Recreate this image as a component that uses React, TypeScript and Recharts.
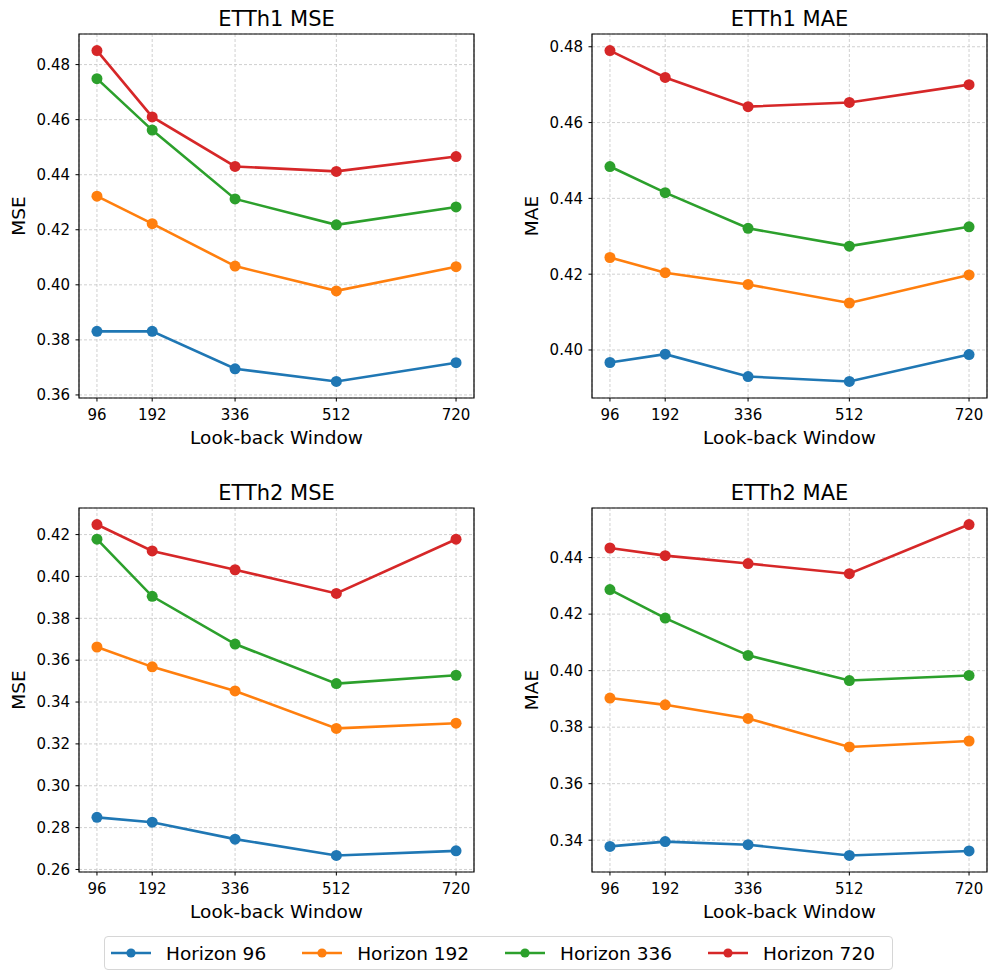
import React from "react";
import {
  CartesianGrid,
  Legend,
  Line,
  LineChart,
  ReferenceArea,
  XAxis,
  YAxis,
} from "recharts";

const windows = [96, 192, 336, 512, 720];

const horizons = ["Horizon 96", "Horizon 192", "Horizon 336", "Horizon 720"];
const colors = ["#1f77b4", "#ff7f0e", "#2ca02c", "#d62728"];

// ETTh1
const etth1Mse96 = [0.3831, 0.3831, 0.3695, 0.3649, 0.3717];
const etth1Mse192 = [0.4322, 0.4222, 0.4068, 0.3978, 0.4066];
const etth1Mse336 = [0.4749, 0.4562, 0.4312, 0.4218, 0.4283];
const etth1Mse720 = [0.4851, 0.461, 0.443, 0.4412, 0.4466];

const etth1Mae96 = [0.3967, 0.3989, 0.393, 0.3917, 0.3988];
const etth1Mae192 = [0.4244, 0.4204, 0.4173, 0.4124, 0.4198];
const etth1Mae336 = [0.4484, 0.4415, 0.4321, 0.4274, 0.4325];
const etth1Mae720 = [0.479, 0.4719, 0.4642, 0.4653, 0.47];

// ETTh2
const etth2Mse96 = [0.2849, 0.2826, 0.2745, 0.2667, 0.2689];
const etth2Mse192 = [0.3663, 0.3568, 0.3453, 0.3274, 0.3299];
const etth2Mse336 = [0.4178, 0.3905, 0.3677, 0.3488, 0.3528];
const etth2Mse720 = [0.4248, 0.4122, 0.4032, 0.3919, 0.4178];

const etth2Mae96 = [0.3378, 0.3395, 0.3384, 0.3346, 0.3362];
const etth2Mae192 = [0.3903, 0.3879, 0.3831, 0.373, 0.3751];
const etth2Mae336 = [0.4287, 0.4186, 0.4054, 0.3965, 0.3983];
const etth2Mae720 = [0.4434, 0.4407, 0.4379, 0.4343, 0.4517];

const etth1MseTicks = [0.36, 0.38, 0.4, 0.42, 0.44, 0.46, 0.48];
const etth1MaeTicks = [0.4, 0.42, 0.44, 0.46, 0.48];
const etth2MseTicks = [0.26, 0.28, 0.3, 0.32, 0.34, 0.36, 0.38, 0.4, 0.42];
const etth2MaeTicks = [0.34, 0.36, 0.38, 0.4, 0.42, 0.44];

const FONT = '"DejaVu Sans", "Liberation Sans", sans-serif';
const KEYS = ["h96", "h192", "h336", "h720"];

// plot box: 395 x 364, y axis 79 wide, x axis 50 tall
const CHART_W = 490;
const CHART_H = 460;
const Y_W = 79;
const X_H = 50;
const MARGIN = { top: 34, right: 16, left: 0, bottom: 12 };

function padded(values: number[]): [number, number] {
  const lo = Math.min(...values);
  const hi = Math.max(...values);
  const p = (hi - lo) * 0.05;
  return [lo - p, hi + p];
}

function buildRows(series: number[][]) {
  return windows.map((w, i) => {
    const row: Record<string, number> = { w };
    series.forEach((s, k) => {
      row[KEYS[k]] = s[i];
    });
    return row;
  });
}

function renderLegend(props: any) {
  // keep the series order, not the alphabetical one
  const payload = [...(props.payload ?? [])].sort(
    (a: any, b: any) => horizons.indexOf(a.value) - horizons.indexOf(b.value)
  );
  return (
    <div
      style={{
        boxSizing: "border-box",
        width: "100%",
        height: "100%",
        border: "1px solid #d6d6d6",
        borderRadius: 4,
        background: "#fff",
        display: "flex",
        alignItems: "center",
        paddingLeft: 6,
        fontFamily: FONT,
        fontSize: 18.5,
        color: "#000",
      }}
    >
      {payload.map((entry: any) => (
        <div
          key={entry.value}
          style={{ display: "flex", alignItems: "center", marginRight: 36 }}
        >
          <svg width={40} height={12} style={{ display: "block" }}>
            <line x1={0} y1={6} x2={40} y2={6} stroke={entry.color} strokeWidth={2.6} />
            <circle cx={20} cy={6} r={4.6} fill={entry.color} />
          </svg>
          <span style={{ marginLeft: 15, whiteSpace: "nowrap" }}>{entry.value}</span>
        </div>
      ))}
    </div>
  );
}

type PanelProps = {
  title: string;
  yLabel: string;
  series: number[][];
  ticks: number[];
  left: number;
  top: number;
  showLegend?: boolean;
};

function Panel({ title, yLabel, series, ticks, left, top, showLegend }: PanelProps) {
  const rows = buildRows(series);
  const yDomain = padded(series.flat());
  const xDomain = padded(windows);
  const plotW = CHART_W - MARGIN.left - MARGIN.right - Y_W;

  return (
    <div style={{ position: "absolute", left, top, width: CHART_W, height: CHART_H }}>
      <div
        style={{
          position: "absolute",
          left: MARGIN.left + Y_W,
          top: MARGIN.top - 24.8,
          width: plotW,
          textAlign: "center",
          fontFamily: FONT,
          fontSize: 21,
          lineHeight: "21px",
          color: "#000",
          whiteSpace: "nowrap",
        }}
      >
        {title}
      </div>
      <LineChart
        width={CHART_W}
        height={CHART_H}
        data={rows}
        margin={MARGIN}
        style={{ fontFamily: FONT, overflow: "visible" }}
      >
        <CartesianGrid stroke="#c4c4c4" strokeWidth={0.8} strokeDasharray="3 2" />
        <XAxis
          dataKey="w"
          type="number"
          domain={xDomain}
          ticks={windows}
          allowDataOverflow
          height={X_H}
          axisLine={false}
          tickLine={{ stroke: "#000", strokeWidth: 1 }}
          tickSize={3.5}
          tickMargin={8}
          tick={{ fill: "#000", fontSize: 15 }}
          label={{
            value: "Look-back Window",
            position: "insideBottom",
            offset: 4,
            fill: "#000",
            fontSize: 18.5,
          }}
        />
        <YAxis
          type="number"
          domain={yDomain}
          ticks={ticks}
          allowDataOverflow
          width={Y_W}
          axisLine={false}
          tickLine={{ stroke: "#000", strokeWidth: 1 }}
          tickSize={3.5}
          tickMargin={5.5}
          tick={{ fill: "#000", fontSize: 15 }}
          tickFormatter={(v: number) => v.toFixed(2)}
          label={{
            value: yLabel,
            angle: -90,
            position: "insideLeft",
            offset: 18,
            fill: "#000",
            fontSize: 18.5,
            style: { textAnchor: "middle" },
          }}
        />
        <ReferenceArea
          x1={xDomain[0]}
          x2={xDomain[1]}
          y1={yDomain[0]}
          y2={yDomain[1]}
          fill="none"
          stroke="#000"
          strokeWidth={1.2}
          ifOverflow="visible"
        />
        {KEYS.map((k, i) => (
          <Line
            key={k}
            type="linear"
            dataKey={k}
            name={horizons[i]}
            stroke={colors[i]}
            strokeWidth={2.6}
            dot={{ r: 5.5, fill: colors[i], stroke: colors[i], strokeWidth: 0 }}
            activeDot={false}
            isAnimationActive={false}
          />
        ))}
        {showLegend && (
          <Legend
            layout="horizontal"
            verticalAlign="middle"
            align="center"
            content={renderLegend}
            wrapperStyle={{ left: 104, top: 462, width: 789, height: 34 }}
          />
        )}
      </LineChart>
    </div>
  );
}

export default function App() {
  return (
    <div
      style={{
        position: "absolute",
        left: 0,
        top: 0,
        width: 997,
        height: 980,
        background: "#fff",
      }}
    >
      <Panel
        title="ETTh1 MSE"
        yLabel="MSE"
        series={[etth1Mse96, etth1Mse192, etth1Mse336, etth1Mse720]}
        ticks={etth1MseTicks}
        left={0}
        top={0}
      />
      <Panel
        title="ETTh1 MAE"
        yLabel="MAE"
        series={[etth1Mae96, etth1Mae192, etth1Mae336, etth1Mae720]}
        ticks={etth1MaeTicks}
        left={513}
        top={0}
      />
      <Panel
        title="ETTh2 MSE"
        yLabel="MSE"
        series={[etth2Mse96, etth2Mse192, etth2Mse336, etth2Mse720]}
        ticks={etth2MseTicks}
        left={0}
        top={474}
        showLegend
      />
      <Panel
        title="ETTh2 MAE"
        yLabel="MAE"
        series={[etth2Mae96, etth2Mae192, etth2Mae336, etth2Mae720]}
        ticks={etth2MaeTicks}
        left={513}
        top={474}
      />
    </div>
  );
}
